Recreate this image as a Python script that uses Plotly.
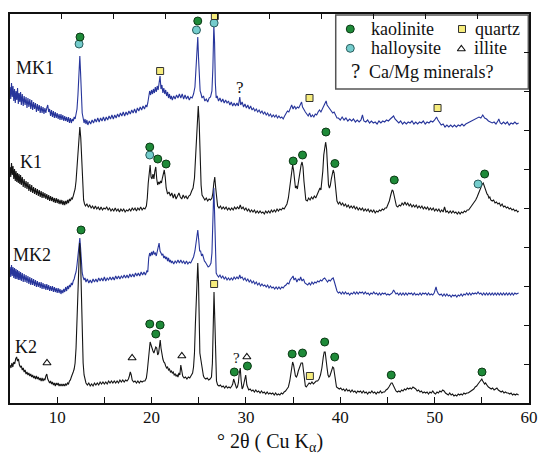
import plotly.graph_objects as go

# ---------------- data (2theta in degrees, intensity in arbitrary offset units) ----------------
MK1 = [(5.0,316),(5.08,304),(5.16,320),(5.24,306),(5.32,317),(5.4,302),(5.48,314),(5.56,300),(5.64,312),(5.72,303),(5.8,315),(5.88,299),(5.96,310),(6.04,301),(6.12,311),(6.2,298),(6.3,309),(6.4,297),(6.5,307),(6.6,298),(6.7,306),(6.8,295),(6.9,305),(7.0,296),(7.1,304),(7.2,294),(7.3,303),(7.4,293),(7.5,301),(7.6,294),(7.7,300),(7.8,291),(7.9,299),(8.0,292),(8.1,298),(8.2,290),(8.3,297),(8.4,290),(8.5,296),(8.6,289),(8.7,295),(8.8,290),(8.9,295),(9.0,298),(9.1,291),(9.2,294),(9.3,287),(9.4,293),(9.5,286),(9.6,292),(9.7,285),(9.8,291),(9.9,285),(10.0,290),(10.1,284),(10.2,289),(10.3,283),(10.4,289),(10.5,283),(10.6,288),(10.7,282),(10.8,287),(10.9,282),(11.0,286),(11.1,281),(11.2,286),(11.3,280),(11.4,285),(11.5,280),(11.6,284),(11.7,282),(11.8,286),(11.9,284),(12.0,289),(12.1,294),(12.2,308),(12.3,330),(12.4,347),(12.48,330),(12.56,305),(12.65,290),(12.75,285),(12.85,280),(12.95,284),(13.05,279),(13.15,283),(13.25,278),(13.4,282),(13.55,279),(13.7,283),(13.85,280),(14.0,284),(14.15,281),(14.3,285),(14.45,281),(14.6,285),(14.75,282),(14.9,286),(15.05,282),(15.2,286),(15.35,283),(15.5,287),(15.65,284),(15.8,288),(15.95,284),(16.1,288),(16.25,285),(16.4,289),(16.55,286),(16.7,290),(16.85,287),(17.0,291),(17.15,287),(17.3,291),(17.45,288),(17.6,292),(17.75,289),(17.9,293),(18.05,290),(18.2,294),(18.35,290),(18.5,295),(18.65,292),(18.8,296),(18.95,293),(19.1,297),(19.25,294),(19.4,298),(19.5,296),(19.6,300),(19.7,309),(19.8,312),(19.9,308),(20.0,313),(20.1,309),(20.2,314),(20.3,310),(20.4,316),(20.5,311),(20.6,317),(20.7,313),(20.8,318),(20.9,327),(21.0,314),(21.1,318),(21.2,310),(21.3,315),(21.4,309),(21.5,313),(21.6,307),(21.7,311),(21.8,305),(21.9,309),(22.0,304),(22.1,307),(22.2,303),(22.35,307),(22.5,304),(22.65,308),(22.8,305),(22.95,309),(23.1,305),(23.25,309),(23.4,304),(23.55,308),(23.7,304),(23.85,307),(24.0,303),(24.15,306),(24.3,305),(24.45,309),(24.6,316),(24.7,330),(24.8,352),(24.9,366),(24.98,345),(25.06,322),(25.15,312),(25.25,309),(25.35,305),(25.5,307),(25.65,302),(25.8,304),(25.95,301),(26.1,305),(26.25,306),(26.4,312),(26.5,335),(26.6,378),(26.68,360),(26.76,320),(26.85,305),(26.95,307),(27.1,302),(27.25,305),(27.4,301),(27.55,304),(27.7,300),(27.85,303),(28.0,300),(28.15,302),(28.3,298),(28.45,301),(28.6,297),(28.75,300),(28.9,297),(29.05,300),(29.2,297),(29.35,306),(29.45,298),(29.6,301),(29.75,296),(29.9,299),(30.05,295),(30.2,298),(30.35,294),(30.5,297),(30.65,293),(30.8,295),(30.95,292),(31.1,294),(31.25,291),(31.4,293),(31.55,290),(31.7,292),(31.85,289),(32.0,291),(32.15,288),(32.3,290),(32.45,287),(32.6,289),(32.75,286),(32.9,288),(33.05,286),(33.2,288),(33.35,285),(33.5,287),(33.65,285),(33.8,286),(33.95,284),(34.1,287),(34.25,289),(34.4,292),(34.55,291),(34.7,295),(34.85,298),(35.0,294),(35.15,297),(35.3,294),(35.45,296),(35.6,295),(35.75,298),(35.9,301),(36.0,296),(36.15,293),(36.3,291),(36.45,289),(36.6,287),(36.75,290),(36.9,286),(37.05,288),(37.2,286),(37.35,289),(37.5,288),(37.65,291),(37.8,293),(37.95,291),(38.1,294),(38.25,296),(38.4,299),(38.5,302),(38.6,298),(38.75,296),(38.9,295),(39.05,292),(39.2,290),(39.35,291),(39.5,287),(39.65,285),(39.8,285),(40.0,283),(40.2,286),(40.4,283),(40.6,285),(40.8,282),(41.0,284),(41.2,282),(41.4,284),(41.6,281),(41.8,283),(42.0,281),(42.2,283),(42.35,288),(42.5,282),(42.7,281),(42.9,283),(43.1,280),(43.3,282),(43.5,280),(43.7,281),(43.9,279),(44.1,282),(44.3,280),(44.5,282),(44.7,281),(44.9,283),(45.1,282),(45.3,284),(45.5,286),(45.65,287),(45.8,284),(46.0,282),(46.2,280),(46.4,282),(46.6,279),(46.8,281),(47.0,279),(47.2,281),(47.4,280),(47.6,282),(47.8,279),(48.0,281),(48.2,279),(48.4,281),(48.6,280),(48.8,282),(49.0,279),(49.2,281),(49.4,280),(49.6,282),(49.8,281),(50.0,283),(50.2,286),(50.35,283),(50.5,281),(50.7,278),(50.9,279),(51.1,276),(51.3,278),(51.5,276),(51.7,278),(51.9,276),(52.1,278),(52.3,276),(52.5,278),(52.7,277),(52.9,279),(53.1,277),(53.3,279),(53.5,280),(53.7,281),(53.9,282),(54.1,283),(54.3,284),(54.5,285),(54.7,286),(54.9,285),(55.1,288),(55.3,285),(55.5,284),(55.7,282),(55.9,281),(56.1,280),(56.3,281),(56.5,279),(56.7,282),(56.8,284),(56.95,280),(57.1,279),(57.3,281),(57.5,279),(57.7,281),(57.9,278),(58.1,280),(58.3,279),(58.5,281),(58.7,279),(58.9,280)]

K1 = [(5.0,236),(5.08,226),(5.16,240),(5.24,228),(5.32,237),(5.4,224),(5.48,234),(5.56,222),(5.64,232),(5.72,221),(5.8,230),(5.88,220),(5.96,229),(6.04,219),(6.12,228),(6.2,218),(6.3,226),(6.4,216),(6.5,224),(6.6,215),(6.7,222),(6.8,214),(6.9,221),(7.0,212),(7.1,219),(7.2,211),(7.3,218),(7.4,210),(7.5,216),(7.6,209),(7.7,215),(7.8,208),(7.9,214),(8.0,207),(8.1,213),(8.2,206),(8.3,212),(8.4,205),(8.5,211),(8.6,205),(8.7,210),(8.8,204),(8.9,209),(9.0,203),(9.1,208),(9.2,202),(9.3,207),(9.4,202),(9.5,206),(9.6,201),(9.7,205),(9.8,200),(9.9,205),(10.0,200),(10.1,204),(10.2,199),(10.3,203),(10.4,199),(10.5,203),(10.6,198),(10.7,202),(10.8,198),(10.9,202),(11.0,199),(11.1,203),(11.2,200),(11.3,204),(11.4,202),(11.5,205),(11.6,204),(11.7,207),(11.8,210),(11.9,214),(12.0,222),(12.1,236),(12.2,255),(12.3,270),(12.4,276),(12.5,265),(12.6,240),(12.7,215),(12.8,203),(12.9,199),(13.0,197),(13.15,199),(13.3,196),(13.45,198),(13.6,195),(13.75,197),(13.9,194),(14.05,197),(14.2,194),(14.35,196),(14.5,193),(14.65,196),(14.8,193),(14.95,195),(15.1,194),(15.25,196),(15.4,193),(15.55,195),(15.7,192),(15.85,194),(16.0,192),(16.15,195),(16.3,192),(16.45,194),(16.6,191),(16.75,194),(16.9,192),(17.05,194),(17.2,191),(17.35,193),(17.5,192),(17.65,194),(17.8,192),(17.95,195),(18.1,193),(18.25,195),(18.4,192),(18.55,195),(18.7,193),(18.85,196),(19.0,193),(19.15,195),(19.3,194),(19.45,197),(19.55,205),(19.65,220),(19.75,234),(19.85,238),(19.95,226),(20.05,224),(20.15,229),(20.25,224),(20.35,232),(20.45,236),(20.55,224),(20.65,218),(20.75,221),(20.85,219),(20.95,222),(21.05,220),(21.15,225),(21.25,231),(21.35,233),(21.45,226),(21.55,215),(21.7,209),(21.85,211),(22.0,207),(22.15,210),(22.3,205),(22.45,209),(22.6,204),(22.75,207),(22.9,210),(23.05,206),(23.2,204),(23.35,208),(23.5,205),(23.65,207),(23.8,204),(23.95,207),(24.1,208),(24.25,212),(24.4,215),(24.55,225),(24.65,245),(24.75,270),(24.85,292),(24.95,297),(25.05,280),(25.15,245),(25.25,218),(25.35,208),(25.5,206),(25.65,203),(25.8,205),(25.95,202),(26.1,204),(26.25,203),(26.4,205),(26.5,210),(26.6,220),(26.7,226),(26.8,215),(26.9,200),(27.0,197),(27.15,195),(27.3,197),(27.45,194),(27.6,196),(27.75,194),(27.9,196),(28.05,193),(28.2,195),(28.35,193),(28.5,195),(28.65,193),(28.8,196),(28.95,194),(29.1,196),(29.25,194),(29.4,198),(29.55,194),(29.7,196),(29.85,193),(30.0,195),(30.15,192),(30.3,194),(30.45,191),(30.6,193),(30.75,191),(30.9,193),(31.05,190),(31.2,192),(31.35,190),(31.5,192),(31.65,190),(31.8,191),(31.95,189),(32.1,192),(32.25,190),(32.4,192),(32.55,190),(32.7,193),(32.85,191),(33.0,193),(33.15,191),(33.3,194),(33.45,192),(33.6,194),(33.75,193),(33.9,195),(34.05,194),(34.2,197),(34.35,199),(34.5,205),(34.65,215),(34.8,230),(34.95,238),(35.05,233),(35.15,222),(35.25,215),(35.35,217),(35.45,214),(35.55,220),(35.7,232),(35.85,238),(35.95,241),(36.05,236),(36.15,222),(36.25,208),(36.35,203),(36.5,202),(36.65,205),(36.8,203),(36.95,206),(37.1,204),(37.25,207),(37.4,205),(37.55,208),(37.7,212),(37.85,215),(37.95,213),(38.05,220),(38.15,232),(38.25,248),(38.35,258),(38.45,261),(38.55,254),(38.65,235),(38.75,218),(38.85,215),(38.95,218),(39.05,224),(39.15,230),(39.25,233),(39.35,230),(39.45,220),(39.55,207),(39.65,202),(39.8,199),(39.95,201),(40.1,198),(40.25,200),(40.4,197),(40.55,199),(40.7,196),(40.85,198),(41.0,195),(41.15,197),(41.3,195),(41.45,197),(41.6,194),(41.75,196),(41.9,193),(42.05,195),(42.2,193),(42.35,195),(42.5,192),(42.65,194),(42.8,192),(42.95,194),(43.1,191),(43.25,193),(43.4,191),(43.55,193),(43.7,190),(43.85,192),(44.0,191),(44.15,193),(44.3,192),(44.45,194),(44.6,193),(44.75,195),(44.9,195),(45.05,198),(45.2,202),(45.35,208),(45.5,213),(45.6,212),(45.7,207),(45.8,202),(45.95,197),(46.1,196),(46.25,198),(46.4,197),(46.55,200),(46.7,198),(46.85,201),(47.0,198),(47.15,200),(47.3,197),(47.45,199),(47.6,196),(47.75,198),(47.9,196),(48.05,198),(48.2,195),(48.35,197),(48.5,195),(48.65,197),(48.8,194),(48.95,196),(49.1,194),(49.25,196),(49.4,193),(49.55,195),(49.7,193),(49.85,195),(50.0,192),(50.15,194),(50.3,192),(50.45,194),(50.6,191),(50.75,193),(50.9,191),(51.05,196),(51.2,191),(51.35,192),(51.5,190),(51.65,192),(51.8,190),(51.95,192),(52.1,190),(52.25,191),(52.4,189),(52.55,191),(52.7,189),(52.85,191),(53.0,190),(53.15,192),(53.3,191),(53.45,193),(53.6,193),(53.75,195),(53.9,196),(54.05,198),(54.2,200),(54.35,203),(54.5,206),(54.65,210),(54.8,213),(54.95,216),(55.05,219),(55.15,220),(55.25,217),(55.35,214),(55.45,212),(55.55,209),(55.65,208),(55.75,205),(55.85,206),(55.95,203),(56.1,202),(56.25,203),(56.4,200),(56.55,201),(56.7,199),(56.85,200),(57.0,197),(57.15,199),(57.3,196),(57.45,197),(57.6,195),(57.75,196),(57.9,194),(58.05,195),(58.2,193),(58.35,194),(58.5,192),(58.65,193),(58.8,191),(58.9,192)]

MK2 = [(5.0,136),(5.08,126),(5.16,138),(5.24,127),(5.32,136),(5.4,125),(5.48,135),(5.56,124),(5.64,134),(5.72,124),(5.8,133),(5.88,123),(5.96,132),(6.04,123),(6.12,131),(6.2,122),(6.3,130),(6.4,121),(6.5,129),(6.6,121),(6.7,128),(6.8,120),(6.9,127),(7.0,119),(7.1,126),(7.2,118),(7.3,125),(7.4,118),(7.5,124),(7.6,117),(7.7,123),(7.8,116),(7.9,122),(8.0,116),(8.1,121),(8.2,115),(8.3,121),(8.4,114),(8.5,120),(8.6,114),(8.7,119),(8.8,113),(8.9,119),(9.0,113),(9.1,118),(9.2,112),(9.3,117),(9.4,112),(9.5,117),(9.6,111),(9.7,116),(9.8,111),(9.9,115),(10.0,110),(10.1,115),(10.2,110),(10.3,114),(10.4,109),(10.5,113),(10.6,110),(10.7,114),(10.8,111),(10.9,116),(11.0,112),(11.1,117),(11.2,114),(11.3,118),(11.4,116),(11.5,120),(11.6,118),(11.7,122),(11.8,124),(11.9,128),(12.0,131),(12.1,138),(12.2,150),(12.3,162),(12.4,165),(12.48,155),(12.56,140),(12.65,130),(12.75,126),(12.85,123),(12.95,125),(13.05,121),(13.2,124),(13.35,120),(13.5,123),(13.65,120),(13.8,124),(13.95,121),(14.1,124),(14.25,121),(14.4,125),(14.55,122),(14.7,125),(14.85,122),(15.0,126),(15.15,122),(15.3,125),(15.45,123),(15.6,126),(15.75,123),(15.9,126),(16.05,123),(16.2,127),(16.35,124),(16.5,127),(16.65,124),(16.8,127),(16.95,125),(17.1,128),(17.25,125),(17.4,128),(17.55,125),(17.7,129),(17.85,126),(18.0,129),(18.15,126),(18.3,130),(18.45,127),(18.6,130),(18.75,127),(18.9,131),(19.05,128),(19.2,131),(19.35,128),(19.5,132),(19.6,131),(19.7,145),(19.8,150),(19.9,147),(20.0,151),(20.1,148),(20.2,152),(20.3,149),(20.4,150),(20.5,147),(20.6,151),(20.7,153),(20.8,160),(20.9,152),(21.0,150),(21.1,148),(21.2,149),(21.3,145),(21.4,147),(21.5,144),(21.6,146),(21.7,142),(21.8,145),(21.9,141),(22.0,143),(22.1,140),(22.2,142),(22.35,139),(22.5,142),(22.65,140),(22.8,143),(22.95,140),(23.1,143),(23.25,140),(23.4,142),(23.55,139),(23.7,142),(23.85,139),(24.0,141),(24.15,140),(24.3,143),(24.45,146),(24.6,152),(24.7,160),(24.8,168),(24.9,173),(25.0,163),(25.1,152),(25.2,152),(25.3,147),(25.4,149),(25.5,144),(25.6,142),(25.7,141),(25.85,138),(26.0,136),(26.15,137),(26.3,140),(26.4,150),(26.5,185),(26.6,215),(26.68,190),(26.76,150),(26.85,130),(26.95,128),(27.1,126),(27.25,128),(27.4,125),(27.55,127),(27.7,124),(27.85,126),(28.0,123),(28.15,125),(28.3,123),(28.45,125),(28.6,123),(28.75,126),(28.9,124),(29.05,126),(29.2,124),(29.35,128),(29.45,125),(29.6,126),(29.75,123),(29.9,125),(30.05,122),(30.2,124),(30.35,121),(30.5,123),(30.65,120),(30.8,122),(30.95,119),(31.1,121),(31.25,118),(31.4,120),(31.55,117),(31.7,119),(31.85,117),(32.0,118),(32.15,116),(32.3,118),(32.45,115),(32.6,117),(32.75,115),(32.9,116),(33.05,114),(33.2,116),(33.35,114),(33.5,116),(33.65,114),(33.8,116),(33.95,115),(34.1,117),(34.25,118),(34.4,120),(34.55,119),(34.7,123),(34.85,125),(35.0,127),(35.1,123),(35.25,125),(35.4,121),(35.55,124),(35.7,123),(35.8,126),(35.95,122),(36.1,124),(36.25,120),(36.4,119),(36.55,118),(36.7,120),(36.85,118),(37.0,121),(37.15,119),(37.3,121),(37.45,120),(37.6,122),(37.75,121),(37.9,123),(38.05,122),(38.2,124),(38.35,125),(38.5,123),(38.65,121),(38.8,123),(38.95,122),(39.1,124),(39.25,125),(39.35,122),(39.5,117),(39.65,112),(39.8,110),(39.95,111),(40.1,109),(40.25,111),(40.4,109),(40.55,111),(40.7,109),(40.85,110),(41.0,108),(41.15,110),(41.3,109),(41.45,111),(41.6,109),(41.75,111),(41.9,109),(42.05,111),(42.2,110),(42.35,111),(42.5,109),(42.65,111),(42.8,109),(42.95,110),(43.1,108),(43.25,110),(43.4,109),(43.55,111),(43.7,109),(43.85,110),(44.0,108),(44.15,110),(44.3,108),(44.45,110),(44.6,109),(44.75,110),(44.9,108),(45.05,109),(45.2,108),(45.35,109),(45.5,110),(45.65,113),(45.75,111),(45.9,109),(46.05,110),(46.2,108),(46.35,110),(46.5,108),(46.65,110),(46.8,108),(46.95,110),(47.1,108),(47.25,110),(47.4,109),(47.55,110),(47.7,108),(47.85,110),(48.0,108),(48.15,109),(48.3,108),(48.45,110),(48.6,108),(48.75,110),(48.9,109),(49.05,110),(49.2,108),(49.35,110),(49.5,108),(49.65,109),(49.8,108),(49.95,110),(50.05,113),(50.15,116),(50.25,112),(50.4,109),(50.55,108),(50.7,109),(50.85,107),(51.0,109),(51.15,107),(51.3,109),(51.45,107),(51.6,108),(51.75,106),(51.9,108),(52.05,107),(52.2,108),(52.35,106),(52.5,108),(52.65,107),(52.8,109),(52.95,107),(53.1,109),(53.25,108),(53.4,110),(53.55,108),(53.7,110),(53.85,108),(54.0,110),(54.15,109),(54.3,110),(54.45,109),(54.6,111),(54.75,109),(54.9,110),(55.05,108),(55.2,110),(55.35,108),(55.5,110),(55.65,108),(55.8,110),(55.95,108),(56.1,110),(56.25,108),(56.4,110),(56.55,108),(56.7,110),(56.85,108),(57.0,110),(57.15,108),(57.3,110),(57.45,108),(57.6,110),(57.75,108),(57.9,110),(58.05,108),(58.2,110),(58.35,108),(58.5,110),(58.65,109),(58.9,110)]

K2 = [(5.0,38),(5.1,35),(5.2,40),(5.3,36),(5.4,41),(5.5,39),(5.6,44),(5.7,46),(5.8,42),(5.9,44),(6.0,38),(6.1,36),(6.2,37),(6.3,33),(6.4,35),(6.5,31),(6.6,33),(6.7,29),(6.8,31),(6.9,28),(7.0,30),(7.1,27),(7.2,29),(7.3,26),(7.4,28),(7.5,25),(7.6,27),(7.7,24),(7.8,27),(7.9,24),(8.0,26),(8.1,23),(8.2,25),(8.3,22),(8.4,25),(8.5,22),(8.6,24),(8.7,23),(8.8,27),(8.9,29),(9.0,24),(9.1,22),(9.2,20),(9.3,22),(9.4,19),(9.5,21),(9.6,18),(9.7,20),(9.8,17),(9.9,20),(10.0,18),(10.1,20),(10.2,17),(10.3,19),(10.4,17),(10.5,19),(10.6,17),(10.7,19),(10.8,17),(10.9,19),(11.0,18),(11.1,20),(11.2,19),(11.3,22),(11.4,23),(11.5,26),(11.6,28),(11.7,31),(11.8,34),(11.9,40),(12.0,55),(12.1,85),(12.2,125),(12.3,155),(12.38,160),(12.46,150),(12.55,115),(12.65,70),(12.75,40),(12.85,28),(12.95,23),(13.05,20),(13.2,18),(13.35,20),(13.5,17),(13.65,19),(13.8,17),(13.95,20),(14.1,18),(14.25,20),(14.4,18),(14.55,21),(14.7,19),(14.85,21),(15.0,19),(15.15,21),(15.3,19),(15.45,22),(15.6,20),(15.75,22),(15.9,20),(16.05,22),(16.2,20),(16.35,22),(16.5,20),(16.65,23),(16.8,21),(16.95,23),(17.1,21),(17.25,23),(17.4,22),(17.55,24),(17.65,27),(17.75,31),(17.85,28),(17.95,23),(18.1,21),(18.25,22),(18.4,20),(18.55,22),(18.7,20),(18.85,22),(19.0,21),(19.15,22),(19.3,22),(19.45,25),(19.55,32),(19.65,45),(19.75,56),(19.85,61),(19.95,58),(20.05,54),(20.15,52),(20.25,50),(20.35,53),(20.45,56),(20.55,55),(20.65,48),(20.75,50),(20.85,60),(20.92,63),(21.0,55),(21.1,47),(21.2,44),(21.3,41),(21.4,40),(21.5,37),(21.6,35),(21.7,36),(21.8,33),(21.9,34),(22.0,31),(22.1,32),(22.2,30),(22.3,31),(22.4,28),(22.5,29),(22.6,27),(22.7,28),(22.8,26),(22.9,30),(23.0,28),(23.1,38),(23.2,30),(23.3,27),(23.45,25),(23.6,26),(23.75,24),(23.9,26),(24.05,25),(24.2,27),(24.35,30),(24.45,36),(24.55,50),(24.65,80),(24.75,115),(24.83,138),(24.9,140),(24.98,120),(25.05,80),(25.12,50),(25.2,45),(25.3,38),(25.4,30),(25.5,27),(25.6,25),(25.75,24),(25.9,25),(26.05,23),(26.2,24),(26.35,26),(26.45,40),(26.55,90),(26.62,111),(26.7,85),(26.78,40),(26.88,22),(27.0,18),(27.15,17),(27.3,18),(27.45,16),(27.6,17),(27.75,15),(27.9,17),(28.05,15),(28.2,16),(28.35,15),(28.5,17),(28.6,19),(28.7,24),(28.8,20),(28.9,16),(29.0,15),(29.1,16),(29.2,20),(29.3,30),(29.4,35),(29.5,22),(29.6,14),(29.7,16),(29.8,20),(29.9,27),(29.98,28),(30.1,18),(30.2,14),(30.3,13),(30.45,14),(30.6,12),(30.75,13),(30.9,11),(31.05,13),(31.2,11),(31.35,12),(31.5,10),(31.65,12),(31.8,10),(31.95,11),(32.1,9),(32.25,11),(32.4,9),(32.55,10),(32.7,9),(32.85,10),(33.0,8),(33.15,10),(33.3,8),(33.45,9),(33.6,8),(33.75,10),(33.9,9),(34.05,11),(34.2,12),(34.35,14),(34.5,16),(34.65,22),(34.8,33),(34.95,41),(35.05,38),(35.15,30),(35.25,27),(35.35,26),(35.45,28),(35.55,32),(35.7,37),(35.85,40),(36.0,40),(36.1,33),(36.2,22),(36.3,17),(36.4,16),(36.55,18),(36.7,20),(36.85,19),(37.0,21),(37.15,19),(37.3,21),(37.45,22),(37.6,22),(37.75,24),(37.9,28),(38.05,35),(38.2,46),(38.3,51),(38.4,51),(38.5,45),(38.6,35),(38.7,28),(38.8,26),(38.9,27),(39.0,30),(39.1,34),(39.2,36),(39.3,35),(39.4,28),(39.5,20),(39.6,16),(39.75,15),(39.9,14),(40.05,15),(40.2,13),(40.35,14),(40.5,12),(40.65,14),(40.8,12),(40.95,13),(41.1,11),(41.25,13),(41.4,11),(41.55,12),(41.7,10),(41.85,12),(42.0,11),(42.15,12),(42.3,10),(42.45,12),(42.6,10),(42.75,11),(42.9,9),(43.05,11),(43.2,10),(43.35,12),(43.5,10),(43.65,11),(43.8,9),(43.95,11),(44.1,10),(44.25,12),(44.4,10),(44.55,11),(44.7,11),(44.85,13),(45.0,14),(45.15,16),(45.3,19),(45.4,20),(45.5,20),(45.6,18),(45.75,15),(45.9,12),(46.05,11),(46.2,12),(46.35,11),(46.5,13),(46.65,12),(46.8,14),(46.95,13),(47.1,15),(47.25,14),(47.4,15),(47.55,14),(47.7,16),(47.85,15),(48.0,14),(48.15,12),(48.3,13),(48.45,11),(48.6,12),(48.75,10),(48.9,11),(49.05,10),(49.2,11),(49.35,9),(49.5,11),(49.65,10),(49.8,12),(49.95,10),(50.1,9),(50.25,11),(50.4,10),(50.55,12),(50.7,11),(50.85,13),(51.0,12),(51.15,10),(51.3,9),(51.45,8),(51.6,10),(51.75,8),(51.9,9),(52.05,7),(52.2,8),(52.35,7),(52.5,9),(52.65,8),(52.8,9),(52.95,8),(53.1,10),(53.25,9),(53.4,10),(53.55,10),(53.7,11),(53.85,12),(54.0,13),(54.15,14),(54.3,16),(54.45,17),(54.6,19),(54.75,21),(54.9,23),(55.0,24),(55.1,22),(55.2,21),(55.3,19),(55.4,20),(55.5,18),(55.6,17),(55.7,16),(55.85,15),(56.0,14),(56.15,15),(56.3,13),(56.45,14),(56.6,15),(56.75,13),(56.9,12),(57.05,11),(57.2,12),(57.35,10),(57.5,11),(57.65,10),(57.8,10),(57.95,9),(58.1,10),(58.25,8),(58.4,9),(58.55,8),(58.7,9),(58.9,8)]

mk1_2theta, mk1_int = zip(*MK1)
k1_2theta, k1_int = zip(*K1)
mk2_2theta, mk2_int = zip(*MK2)
k2_2theta, k2_int = zip(*K2)

# phase identification markers (2theta, intensity position of the symbol)
kaolinite_2theta = [12.42, 24.9, 19.81, 20.66, 21.54, 35.01, 36.0, 38.48, 39.43, 45.72, 55.3, 12.53, 19.81, 20.91, 20.45, 28.77, 30.16, 34.9, 36.0, 38.35, 39.41, 45.4, 55.02]
kaolinite_int = [366, 382, 256, 244, 239, 242, 248, 271, 239.5, 223, 229, 173, 79, 78, 69, 31, 37, 49, 50, 61, 46, 28, 31]
halloysite_2theta = [12.32, 24.76, 26.63, 19.81, 54.6]
halloysite_int = [359, 373, 380, 248, 219]
quartz_2theta = [20.91, 26.71, 36.74, 50.31, 26.63, 36.78]
quartz_int = [332, 387, 305, 295, 119, 27]
illite_2theta = [8.92, 17.94, 23.21, 30.1]
illite_int = [40, 45, 47, 46]
unknown_2theta = [29.39, 28.97]
unknown_int = [316, 45]

sample_names = ["MK1", "K1", "MK2", "K2"]
sample_label_pos = [(5.45, 335), (5.88, 241.5), (5.1, 148), (5.35, 56.5)]

# ---------------- styling ----------------
BLUE = "#27359b"
BLACK = "#151515"
FONT = "Liberation Serif"
KAO = dict(symbol="circle", size=8, color="#1e8a38", line=dict(color="#0c3a16", width=1))
HAL = dict(symbol="circle", size=8, color="#74cccc", line=dict(color="#2a5c5c", width=1))
QTZ = dict(symbol="square", size=7, color="#f6ec7c", line=dict(color="#333333", width=1))
ILL = dict(symbol="triangle-up-open", size=7, color="#111111", line=dict(color="#111111", width=1.1))

fig = go.Figure()
for xs, ys, col in [(mk1_2theta, mk1_int, BLUE), (k1_2theta, k1_int, BLACK),
                    (mk2_2theta, mk2_int, BLUE), (k2_2theta, k2_int, BLACK)]:
    fig.add_trace(go.Scatter(x=list(xs), y=list(ys), mode="lines",
                             line=dict(color=col, width=1.1), showlegend=False, hoverinfo="skip"))

for xs, ys, mk in [(halloysite_2theta, halloysite_int, HAL), (kaolinite_2theta, kaolinite_int, KAO),
                   (quartz_2theta, quartz_int, QTZ), (illite_2theta, illite_int, ILL)]:
    fig.add_trace(go.Scatter(x=xs, y=ys, mode="markers", marker=mk, cliponaxis=False,
                             showlegend=False, hoverinfo="skip"))

# legend box symbols (drawn in data space inside the box)
leg_sym = [(41.06, 374, dict(KAO, size=8)), (41.06, 354.7, dict(HAL, size=8)),
           (52.9, 374, dict(QTZ, size=7)), (52.83, 354, dict(ILL, size=7))]
for lx, ly, mk in leg_sym:
    fig.add_trace(go.Scatter(x=[lx], y=[ly], mode="markers", marker=mk, cliponaxis=False,
                             showlegend=False, hoverinfo="skip"))

# dummy trace for the top/right frame ticks
fig.add_trace(go.Scatter(x=[0], y=[0], xaxis="x2", yaxis="y2", mode="markers",
                         marker=dict(opacity=0), showlegend=False, hoverinfo="skip"))

ann = []
for name, (lx, ly) in zip(sample_names, sample_label_pos):
    ann.append(dict(x=lx, y=ly, xref="x", yref="y", text=name, showarrow=False,
                    xanchor="left", yanchor="middle", font=dict(family=FONT, size=18, color="#111")))
ann.append(dict(x=unknown_2theta[0], y=unknown_int[0], xref="x", yref="y", text="?", showarrow=False,
                font=dict(family=FONT, size=17, color="#111")))
ann.append(dict(x=unknown_2theta[1], y=unknown_int[1], xref="x", yref="y", text="?", showarrow=False,
                font=dict(family=FONT, size=15, color="#111")))
for tx, ty, t in [(43.07, 374, "kaolinite"), (54.02, 374, "quartz"), (43.07, 355.4, "halloysite"),
                  (54.0, 355.4, "illite"), (42.83, 331.4, "Ca/Mg minerals?")]:
    ann.append(dict(x=tx, y=ty, xref="x", yref="y", text=t, showarrow=False, xanchor="left",
                    yanchor="middle", font=dict(family=FONT, size=18, color="#111")))
ann.append(dict(x=40.95, y=332, xref="x", yref="y", text="?", showarrow=False, xanchor="left",
                yanchor="middle", font=dict(family=FONT, size=21, color="#111")))
ann.append(dict(x=0.5, y=-0.102, xref="paper", yref="paper", text="° 2θ ( Cu K<sub>α</sub>)",
                showarrow=False, xanchor="center", yanchor="middle",
                font=dict(family=FONT, size=20, color="#111")))

fig.update_layout(
    template="none",
    width=539, height=460, margin=dict(l=10, r=10, t=14, b=57, autoexpand=False),
    paper_bgcolor="white", plot_bgcolor="white",
    font=dict(family=FONT, color="#111"),
    annotations=ann,
    shapes=[dict(type="rect", xref="paper", yref="paper", x0=0.6276, x1=0.9987, y0=0.8072, y1=0.9974,
                 line=dict(color="#555555", width=1.5), fillcolor="white", layer="below")],
    xaxis=dict(range=[5, 60], tick0=0, dtick=10, ticks="inside", ticklen=6, automargin=False,
               tickwidth=1, tickcolor="#111", showline=True, mirror=True, linecolor="#111", linewidth=1.5,
               showgrid=False, zeroline=False, ticklabelstandoff=-2, ticklabeloverflow="allow",
               minor=dict(dtick=5, tick0=0, ticks="inside", ticklen=6, tickcolor="#111", showgrid=False),
               tickfont=dict(family=FONT, size=17, color="#111")),
    yaxis=dict(range=[0, 389], showticklabels=False, ticks="", showline=True, mirror=True, automargin=False,
               linecolor="#111", linewidth=1.5, showgrid=False, zeroline=False),
    xaxis2=dict(overlaying="x", side="top", range=[0, 10], tickvals=list(range(11)), ticks="inside",
                automargin=False, ticklen=5, tickcolor="#111", showticklabels=False, showline=False,
                showgrid=False, zeroline=False),
    yaxis2=dict(overlaying="y", side="right", range=[0, 10], tickvals=list(range(11)), ticks="inside",
                automargin=False, ticklen=5, tickcolor="#111", showticklabels=False, showline=False,
                showgrid=False, zeroline=False),
)
fig.write_html("out.html", config={"displayModeBar": False},
               post_script="document.body.style.margin='0px';")
